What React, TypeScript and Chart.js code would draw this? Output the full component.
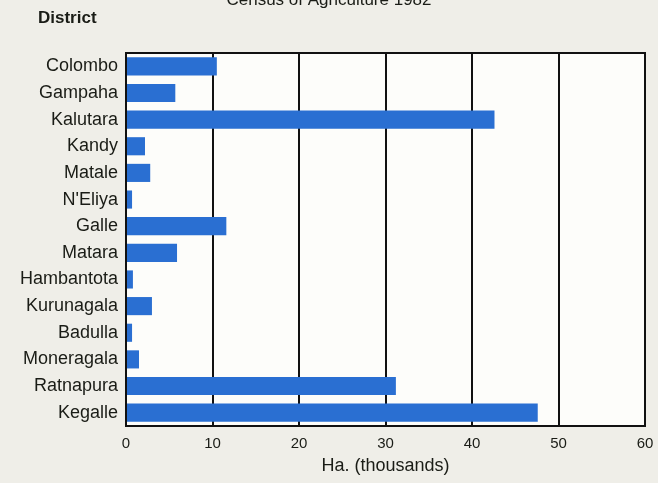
import React, { useEffect, useRef } from "react";
import { Chart, registerables } from "chart.js";

Chart.register(...registerables);

const chartTitle = "Census of Agriculture 1982";
const axisHeading = "District";
const xAxisTitle = "Ha. (thousands)";

const districts = [
  "Colombo",
  "Gampaha",
  "Kalutara",
  "Kandy",
  "Matale",
  "N'Eliya",
  "Galle",
  "Matara",
  "Hambantota",
  "Kurunagala",
  "Badulla",
  "Moneragala",
  "Ratnapura",
  "Kegalle",
];

const hectaresThousands = [10.5, 5.7, 42.6, 2.2, 2.8, 0.7, 11.6, 5.9, 0.8, 3.0, 0.7, 1.5, 31.2, 47.6];

const xTicks = [0, 10, 20, 30, 40, 50, 60];

const FONT = "'Liberation Sans', Arial, Helvetica, sans-serif";
const INK = "#1a1c16";

const decorPlugin = {
  id: "decor",
  beforeDraw(chart: any) {
    const { ctx, chartArea, width, height } = chart;
    ctx.save();
    ctx.fillStyle = "#efeee8";
    ctx.fillRect(0, 0, width, height);
    ctx.fillStyle = "#fdfdfa";
    ctx.fillRect(chartArea.left, chartArea.top, chartArea.right - chartArea.left, chartArea.bottom - chartArea.top);
    ctx.restore();
  },
  afterDraw(chart: any) {
    const { ctx, chartArea, width } = chart;
    ctx.save();
    ctx.strokeStyle = "#111";
    ctx.lineWidth = 2;
    ctx.strokeRect(chartArea.left, chartArea.top, chartArea.right - chartArea.left, chartArea.bottom - chartArea.top);
    ctx.fillStyle = INK;
    ctx.textAlign = "center";
    ctx.textBaseline = "alphabetic";
    ctx.font = `17px ${FONT}`;
    ctx.fillText(chartTitle, width / 2, 5);
    ctx.textAlign = "left";
    ctx.textBaseline = "middle";
    ctx.font = `bold 17px ${FONT}`;
    ctx.fillText(axisHeading, 38, 18);
    ctx.restore();
  },
};

export default function App() {
  const ref = useRef<HTMLCanvasElement | null>(null);

  useEffect(() => {
    if (!ref.current) return;
    const chart = new Chart(ref.current, {
      type: "bar",
      data: {
        labels: districts,
        datasets: [
          {
            data: hectaresThousands,
            backgroundColor: "#2a6fd2",
            borderWidth: 0,
            categoryPercentage: 1,
            barPercentage: 0.68,
          },
        ],
      },
      options: {
        indexAxis: "y",
        animation: false,
        responsive: false,
        devicePixelRatio: 1,
        layout: { padding: { top: 53, right: 13, bottom: 0, left: 0 } },
        plugins: {
          legend: { display: false },
          tooltip: { enabled: false },
          title: { display: false },
        },
        scales: {
          x: {
            type: "linear",
            min: 0,
            max: 60,
            afterBuildTicks: (scale: any) => {
              scale.ticks = xTicks.map((v) => ({ value: v }));
            },
            afterFit: (scale: any) => {
              scale.height = 57;
              scale.paddingRight = 0;
              scale.paddingLeft = 0;
            },
            grid: {
              color: "#111",
              lineWidth: 2,
              drawTicks: false,
            },
            border: { color: "#111", width: 2 },
            ticks: {
              padding: 9,
              color: INK,
              font: { family: FONT, size: 15 },
            },
            title: {
              display: true,
              text: xAxisTitle,
              color: INK,
              font: { family: FONT, size: 18 },
              padding: { top: 2, bottom: 6 },
            },
          },
          y: {
            type: "category",
            afterFit: (scale: any) => {
              scale.width = 126;
            },
            grid: { display: false, drawTicks: false },
            border: { color: "#111", width: 2 },
            ticks: {
              padding: 8,
              color: INK,
              font: { family: FONT, size: 18 },
              autoSkip: false,
            },
          },
        },
      },
      plugins: [decorPlugin],
    });
    return () => chart.destroy();
  }, []);

  return (
    <div style={{ position: "fixed", left: 0, top: 0, width: 658, height: 483 }}>
      <canvas ref={ref} width={658} height={483} style={{ display: "block" }} />
    </div>
  );
}
